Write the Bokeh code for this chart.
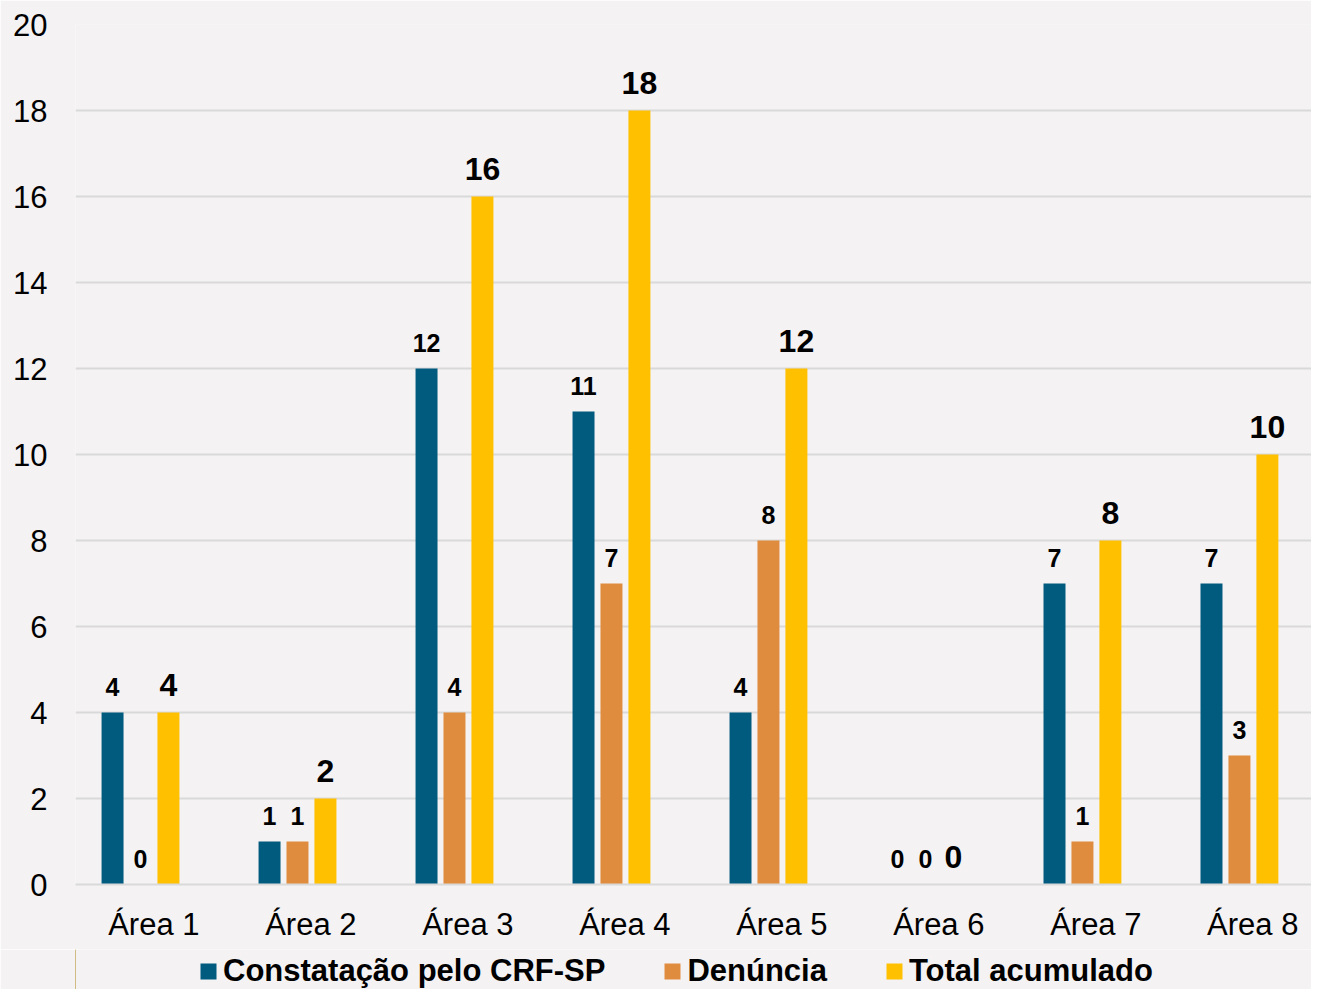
import numpy as np
from bokeh.plotting import figure
from bokeh.layouts import column
from bokeh.models import Range1d, FixedTicker, ColumnDataSource, Legend, LegendItem
from bokeh.core.properties import value
from bokeh.embed import file_html
from bokeh.resources import INLINE

categories = ["Área 1", "Área 2", "Área 3", "Área 4", "Área 5", "Área 6", "Área 7", "Área 8"]
constatacao = [4, 1, 12, 11, 4, 0, 7, 7]
denuncia = [0, 1, 4, 7, 8, 0, 1, 3]
total = [4, 2, 16, 18, 12, 0, 8, 10]
series_names = ["Constatação pelo CRF-SP", "Denúncia", "Total acumulado"]
colors = ["#005b7f", "#e08c3e", "#ffc000"]
y_ticks = [0, 2, 4, 6, 8, 10, 12, 14, 16, 18, 20]

BG = "#f4f2f3"
GRID = "#d9d9d9"
FONT = "Liberation Sans"

p = figure(width=1311, height=949, output_backend="svg", toolbar_location=None,
           x_range=Range1d(-0.414, 7.459), y_range=Range1d(0, 20),
           min_border_left=75, min_border_right=0, min_border_top=24, min_border_bottom=65)
p.background_fill_color = BG
p.border_fill_color = BG
p.outline_line_color = None

idx = np.arange(len(categories))
offsets = [-0.178, 0.0, 0.178]
series = [constatacao, denuncia, total]
label_sizes = ["25px", "25px", "32px"]
label_offsets = [-26, -26, -28]
for vals, col, off, fs, yo in zip(series, colors, offsets, label_sizes, label_offsets):
    src = ColumnDataSource(dict(x=idx + off, top=vals, lab=[str(v) for v in vals]))
    p.vbar(x="x", top="top", width=0.14, source=src, fill_color=col, line_color=None)
    p.text(x="x", y="top", text="lab", source=src, text_align="center",
           text_baseline="alphabetic", y_offset=yo, text_font=value(FONT),
           text_font_style="bold", text_font_size=fs, text_color="black")

# axes
p.xaxis.ticker = FixedTicker(ticks=list(idx + 0.085))
p.xaxis.major_label_overrides = {float(i + 0.085): c for i, c in zip(idx, categories)}
p.xaxis.major_label_text_font = FONT
p.xaxis.major_label_text_font_size = "31px"
p.xaxis.major_label_text_color = "black"
p.xaxis.major_label_standoff = 16
p.xaxis.axis_line_color = GRID
p.xaxis.axis_line_width = 2
p.xaxis.major_tick_line_color = None
p.xaxis.minor_tick_line_color = None

p.yaxis.ticker = FixedTicker(ticks=y_ticks)
p.yaxis.major_label_text_font = FONT
p.yaxis.major_label_text_font_size = "31px"
p.yaxis.major_label_text_color = "black"
p.yaxis.major_label_standoff = 22
p.yaxis.axis_line_color = None
p.yaxis.major_tick_line_color = None
p.yaxis.minor_tick_line_color = None

p.xgrid.grid_line_color = None
p.ygrid.ticker = FixedTicker(ticks=y_ticks)
p.ygrid.grid_line_color = GRID
p.ygrid.grid_line_width = 2

# legend strip below the chart
pl = figure(width=1311, height=40, output_backend="svg", toolbar_location=None,
            x_range=Range1d(0, 1), y_range=Range1d(0, 1),
            x_axis_location=None, y_axis_location=None,
            min_border_left=0, min_border_right=0, min_border_top=0, min_border_bottom=0)
pl.background_fill_color = BG
pl.border_fill_color = BG
pl.outline_line_color = None
pl.grid.grid_line_color = None
items = []
for n, col in zip(series_names, colors):
    # legend-only renderer, kept outside the visible range
    r = pl.vbar(x=[-10], top=[1], width=0.1, fill_color=col, line_color=None)
    items.append(LegendItem(label=n, renderers=[r]))

lg = Legend(items=items)
lg.orientation = "horizontal"
lg.location = (123, 0)
lg.background_fill_alpha = 0
lg.border_line_color = None
lg.padding = 0
lg.margin = 0
lg.spacing = 57
lg.glyph_width = 20
lg.glyph_height = 20
lg.label_standoff = 5
lg.label_height = 20
lg.label_text_font = FONT
lg.label_text_font_style = "bold"
lg.label_text_font_size = "31px"
lg.label_text_color = "black"
pl.add_layout(lg, "center")

layout = column(p, pl, spacing=0)
open("out.html", "w").write(file_html(layout, INLINE))
